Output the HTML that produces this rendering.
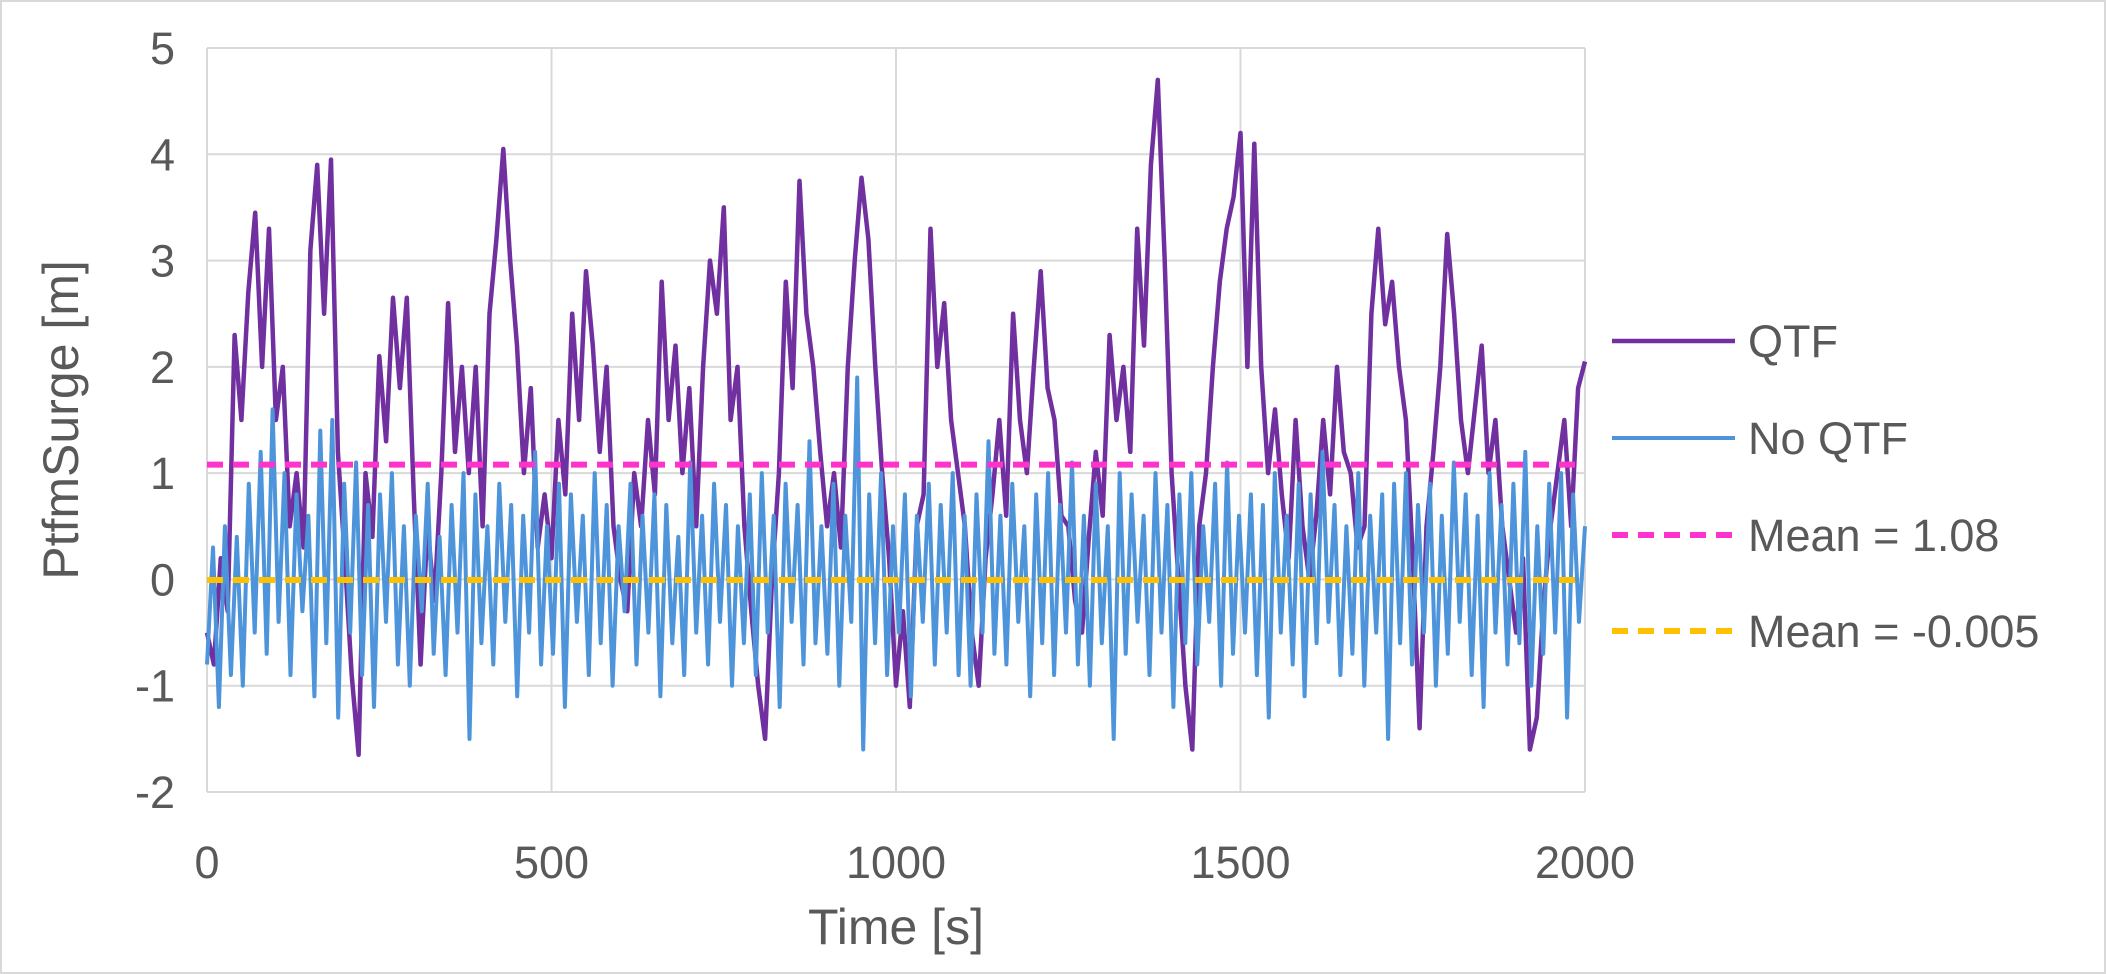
<!DOCTYPE html>
<html><head><meta charset="utf-8"><style>
html,body{margin:0;padding:0;background:#fff}
svg{display:block}
text{font-family:"Liberation Sans",sans-serif;fill:#595959}
</style></head><body>
<svg id="chart" width="2106" height="974" viewBox="0 0 2106 974" xmlns="http://www.w3.org/2000/svg">
<rect x="1" y="1" width="2104" height="972" fill="#fff" stroke="#d9d9d9" stroke-width="2"/>
<g id="grid"></g>
<g id="series"></g>
<g id="axes"></g>
<text transform="translate(78,420) rotate(-90)" text-anchor="middle" font-size="50">PtfmSurge [m]</text>
<text x="896" y="944" text-anchor="middle" font-size="50">Time [s]</text>
<g id="legend"></g>
</svg>
<script>
const xTicks=[0,500,1000,1500,2000];
const yTicks=[-2,-1,0,1,2,3,4,5];
const tStart=0,tEnd=2000;
const qtfValues=[-0.5,-0.8,0.2,-0.3,2.3,1.5,2.7,3.45,2.0,3.3,
1.5,2.0,0.5,1.0,0.3,3.1,3.9,2.5,3.95,1.2,
0.2,-0.9,-1.65,1.0,0.4,2.1,1.3,2.65,1.8,2.65,
0.8,-0.8,0.5,-0.2,1.0,2.6,1.2,2.0,1.0,2.0,
0.5,2.5,3.2,4.05,3.0,2.2,1.0,1.8,0.3,0.8,
0.2,1.5,0.8,2.5,1.5,2.9,2.2,1.2,2.0,0.5,
0.0,-0.3,1.0,0.5,1.5,0.8,2.8,1.5,2.2,1.0,
1.8,0.5,2.0,3.0,2.5,3.5,1.5,2.0,0.5,-0.3,
-1.0,-1.5,0.0,1.0,2.8,1.8,3.75,2.5,2.0,1.2,
0.5,1.0,0.3,2.0,3.0,3.78,3.2,2.0,1.0,0.2,
-1.0,-0.3,-1.2,0.5,0.8,3.3,2.0,2.6,1.5,1.0,
0.5,-0.5,-1.0,0.2,0.8,1.5,0.6,2.5,1.5,1.0,
2.0,2.9,1.8,1.5,0.6,0.5,-0.2,-0.5,0.4,1.2,
0.6,2.3,1.5,2.0,1.2,3.3,2.2,3.9,4.7,3.0,
1.0,0.0,-1.0,-1.6,0.5,1.0,2.0,2.8,3.3,3.6,
4.2,2.0,4.1,2.0,1.0,1.6,0.8,0.2,1.5,0.5,
0.0,0.6,1.5,0.8,2.0,1.2,1.0,0.3,0.5,2.5,
3.3,2.4,2.8,2.0,1.5,0.2,-1.4,0.5,1.2,2.0,
3.25,2.5,1.5,1.0,1.6,2.2,1.0,1.5,0.5,0.0,
-0.5,0.2,-1.6,-1.3,-0.2,0.5,1.0,1.5,0.5,1.8,2.05];
const noQtfValues=[-0.8,0.3,-1.2,0.5,-0.9,0.4,-1.0,0.9,-0.5,1.2,-0.7,1.6,-0.4,1.0,-0.9,0.8,-0.3,0.6,-1.1,1.4,
-0.6,1.5,-1.3,0.9,-0.5,1.1,-0.9,0.7,-1.2,0.8,-0.4,1.0,-0.8,0.5,-1.0,0.6,-0.3,0.9,-0.7,0.4,
-0.9,0.7,-0.5,1.0,-1.5,0.8,-0.6,0.5,-0.8,0.9,-0.4,0.7,-1.1,0.6,-0.5,1.2,-0.8,0.5,-0.7,0.9,
-1.2,0.8,-0.4,0.6,-0.9,1.0,-0.6,0.7,-1.0,0.5,-0.3,0.9,-0.8,0.6,-0.5,0.8,-1.1,0.7,-0.6,0.4,
-0.9,1.1,-0.5,0.6,-0.8,0.9,-0.4,0.7,-1.0,0.5,-0.6,0.8,-0.9,1.0,-0.5,0.6,-1.2,0.9,-0.4,0.7,
-0.8,1.3,-0.6,0.5,-0.7,0.9,-1.0,0.6,-0.4,1.9,-1.6,0.8,-0.6,1.0,-0.9,0.5,-0.5,0.8,-1.1,0.6,
-0.4,0.9,-0.8,0.7,-0.5,1.0,-0.9,0.6,-1.0,0.8,-0.5,1.3,-0.7,0.6,-0.8,0.9,-0.4,0.5,-1.1,0.8,
-0.6,1.0,-0.9,0.7,-0.5,1.1,-0.8,0.6,-1.0,0.9,-0.6,0.5,-1.5,1.0,-0.7,0.8,-0.4,0.6,-0.9,1.0,
-0.5,0.7,-1.2,0.8,-0.6,1.0,-0.8,0.5,-0.4,0.9,-1.0,1.1,-0.7,0.6,-0.5,0.8,-0.9,0.7,-1.3,1.0,
-0.5,0.6,-0.8,0.9,-1.1,0.8,-0.6,1.2,-0.4,0.7,-0.9,0.5,-0.7,1.0,-1.0,0.6,-0.5,0.8,-1.5,0.9,
-0.6,1.0,-0.8,0.7,-0.5,0.9,-1.0,0.6,-0.7,1.1,-0.4,0.8,-0.9,0.6,-1.2,1.0,-0.5,0.7,-0.8,0.9,
-0.6,1.2,-1.0,0.5,-0.7,0.9,-0.5,1.0,-1.3,0.8,-0.4,0.5];
const meanQtf=1.08;
const meanNoQtf=-0.005;
const legendLabels=["QTF","No QTF","Mean = 1.08","Mean = -0.005"];

const NS="http://www.w3.org/2000/svg";
const X0=207,X1=1585,Y5=48,Ym2=792;
function sx(t){return X0+(t-0)/(2000-0)*(X1-X0);}
function sy(v){return Ym2-(v-(-2))/(5-(-2))*(Ym2-Y5);}
function mk(tag,attrs,parent){const e=document.createElementNS(NS,tag);for(const k in attrs)e.setAttribute(k,attrs[k]);parent.appendChild(e);return e;}
const grid=document.getElementById('grid'),axes=document.getElementById('axes'),series=document.getElementById('series'),legend=document.getElementById('legend');
yTicks.forEach(v=>{
  const l=mk('line',{x1:X0,x2:X1,y1:sy(v),y2:sy(v),stroke:'#d9d9d9','stroke-width':2},grid);
  
  
  const t=mk('text',{x:X0-32,y:sy(v)+16,'text-anchor':'end','font-size':45},axes);
  t.textContent=v;
  
  
});
xTicks.forEach(v=>{
  const l=mk('line',{x1:sx(v),x2:sx(v),y1:Y5,y2:Ym2,stroke:'#d9d9d9','stroke-width':2},grid);
  
  
  const t=mk('text',{x:sx(v),y:878,'text-anchor':'middle','font-size':45},axes);
  t.textContent=v;
  
  
});
function path(vals){const step=(tEnd-tStart)/(vals.length-1);return vals.map((v,i)=>(i?'L':'M')+sx(tStart+i*step).toFixed(1)+','+sy(v).toFixed(1)).join('');}
const pq=mk('path',{d:path(qtfValues),fill:'none',stroke:'#7030a0','stroke-width':4.5,'stroke-linejoin':'round'},series);


const pn=mk('path',{d:path(noQtfValues),fill:'none',stroke:'#4d94db','stroke-width':4,'stroke-linejoin':'round'},series);


const m1=mk('line',{x1:X0,x2:X1,y1:sy(meanQtf),y2:sy(meanQtf),stroke:'#ff33cc','stroke-width':6,'stroke-dasharray':'16,10'},series);


const m2=mk('line',{x1:X0,x2:X1,y1:sy(meanNoQtf),y2:sy(meanNoQtf),stroke:'#ffc000','stroke-width':6,'stroke-dasharray':'16,10'},series);


const lstyles=[['#7030a0',4.5,''],['#4d94db',4,''],['#ff33cc',6,'16,10'],['#ffc000',6,'16,10']];
const ly=[341,438,535,631];
legendLabels.forEach((lab,i)=>{
  const l=mk('line',{x1:1612,x2:1735,y1:ly[i],y2:ly[i],stroke:lstyles[i][0],'stroke-width':lstyles[i][1]},legend);
  if(lstyles[i][2])l.setAttribute('stroke-dasharray',lstyles[i][2]);
  
  
  const t=mk('text',{x:1748,y:ly[i]+16,'font-size':45},legend);
  t.textContent=lab;
  
  
});
</script>
</body></html>
